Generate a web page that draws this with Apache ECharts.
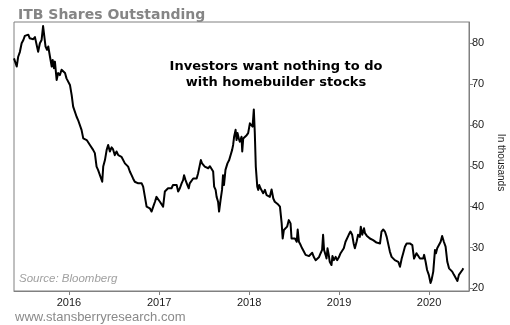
<!DOCTYPE html>
<html>
<head>
<meta charset="utf-8">
<script src="https://cdn.jsdelivr.net/npm/echarts@6/dist/echarts.min.js"></script>
<style>
  html, body { margin: 0; padding: 0; background: #fff; }
  #chart { width: 510px; height: 325px; }
</style>
</head>
<body>
<div id="chart"></div>
<script>
// ITB shares outstanding (thousands), roughly weekly readings
const dates = [
  '2015-05-23','2015-05-27','2015-06-03','2015-06-09','2015-06-16','2015-06-23','2015-06-30','2015-07-06','2015-07-13','2015-07-20','2015-07-26','2015-08-02','2015-08-09','2015-08-16','2015-08-23','2015-08-29','2015-09-05','2015-09-12','2015-09-18','2015-09-22','2015-09-28','2015-10-04','2015-10-09','2015-10-16','2015-10-23','2015-10-27','2015-11-01','2015-11-05','2015-11-12','2015-11-18','2015-11-25','2015-12-02','2015-12-09','2015-12-16','2015-12-22','2015-12-29',
  '2016-01-05','2016-01-12','2016-01-18','2016-01-25','2016-02-01','2016-02-07','2016-02-14','2016-02-21','2016-02-28','2016-03-06','2016-03-13','2016-03-19','2016-03-26','2016-04-02','2016-04-08','2016-04-15','2016-04-22','2016-04-28','2016-05-05','2016-05-15','2016-05-19','2016-05-26','2016-06-02','2016-06-08','2016-06-15','2016-06-22','2016-06-28','2016-07-05','2016-07-12','2016-07-19','2016-07-26','2016-08-01','2016-08-08','2016-08-15','2016-08-22','2016-08-28','2016-09-04','2016-09-11','2016-09-17','2016-09-24','2016-10-01','2016-10-08','2016-10-15','2016-10-22','2016-10-28','2016-11-04','2016-11-11','2016-11-17','2016-11-24','2016-12-01','2016-12-08','2016-12-15','2016-12-21','2016-12-28',
  '2017-01-04','2017-01-11','2017-01-17','2017-01-24','2017-01-31','2017-02-06','2017-02-13','2017-02-20','2017-02-26','2017-03-06','2017-03-13','2017-03-19','2017-03-26','2017-04-02','2017-04-08','2017-04-12','2017-04-18','2017-04-26','2017-05-01','2017-05-05','2017-05-12','2017-05-19','2017-05-26','2017-06-02','2017-06-08','2017-06-15','2017-06-19','2017-06-24','2017-06-28','2017-07-05','2017-07-12','2017-07-19','2017-07-26','2017-08-02','2017-08-08','2017-08-12','2017-08-18','2017-08-22','2017-08-28','2017-09-01','2017-09-07','2017-09-13','2017-09-17','2017-09-21','2017-09-27','2017-10-05','2017-10-12','2017-10-19','2017-10-24','2017-10-28','2017-11-01','2017-11-07','2017-11-11','2017-11-15','2017-11-20','2017-11-24','2017-12-01','2017-12-04','2017-12-08','2017-12-15','2017-12-22','2017-12-28',
  '2018-01-04','2018-01-11','2018-01-15','2018-01-20','2018-01-24','2018-01-28','2018-02-03','2018-02-07','2018-02-11','2018-02-16','2018-02-20','2018-02-27','2018-03-06','2018-03-13','2018-03-19','2018-03-26','2018-04-02','2018-04-09','2018-04-15','2018-04-22','2018-04-29','2018-05-06','2018-05-13','2018-05-17','2018-05-22','2018-05-29','2018-06-04','2018-06-11','2018-06-18','2018-06-22','2018-06-29','2018-07-06','2018-07-13','2018-07-17','2018-07-22','2018-07-29','2018-08-04','2018-08-11','2018-08-18','2018-08-25','2018-09-01','2018-09-07','2018-09-14','2018-09-21','2018-09-28','2018-10-04','2018-10-11','2018-10-18','2018-10-24','2018-10-28','2018-11-01','2018-11-07','2018-11-11','2018-11-15','2018-11-20','2018-11-24','2018-12-01','2018-12-05','2018-12-11','2018-12-18','2018-12-24','2018-12-31',
  '2019-01-07','2019-01-13','2019-01-20','2019-01-27','2019-02-03','2019-02-09','2019-02-16','2019-02-23','2019-03-01','2019-03-06','2019-03-13','2019-03-19','2019-03-26','2019-03-30','2019-04-05','2019-04-12','2019-04-16','2019-04-23','2019-04-29','2019-05-06','2019-05-13','2019-05-19','2019-05-26','2019-06-02','2019-06-09','2019-06-16','2019-06-22','2019-06-29','2019-07-06','2019-07-13','2019-07-19','2019-07-26','2019-08-02','2019-08-08','2019-08-15','2019-08-22','2019-08-29','2019-09-05','2019-09-12','2019-09-18','2019-09-25','2019-10-02','2019-10-08','2019-10-15','2019-10-19','2019-10-25','2019-11-01','2019-11-07','2019-11-11','2019-11-18','2019-11-25','2019-12-02','2019-12-08','2019-12-12','2019-12-18','2019-12-24','2019-12-31',
  '2020-01-07','2020-01-11','2020-01-18','2020-01-25','2020-01-29','2020-02-03','2020-02-10','2020-02-17','2020-02-23','2020-03-01','2020-03-08','2020-03-15','2020-03-22','2020-03-29','2020-04-04','2020-04-11','2020-04-18','2020-04-25','2020-05-01','2020-05-08','2020-05-15','2020-05-19'
];

const shares = [
  76.3, 75.9, 74.3, 76.7, 77.9, 80.0, 80.8, 81.8, 81.5, 82.1, 81.2, 81.6, 81.0, 81.5, 81.2, 77.9, 80.0, 80.8, 84.2, 84.1, 79.2, 78.4, 79.2, 76.7, 74.3, 75.9, 73.9, 75.5, 71.0, 72.7, 72.2, 73.5, 73.6, 72.7, 71.4, 71.4,
  69.8, 67.3, 64.5, 64.1, 62.0, 61.2, 60.8, 58.8, 56.7, 57.1, 56.3, 56.7, 55.1, 55.5, 53.9, 53.1, 49.8, 49.0, 48.6, 46.1, 49.8, 51.4, 53.9, 55.1, 53.5, 54.5, 54.0, 52.6, 53.5, 52.6, 52.2, 52.2, 51.8, 50.6, 50.2, 49.8, 48.6, 47.7, 46.9, 46.1, 46.5, 45.7, 45.3, 45.7, 44.9, 44.5, 40.0, 40.0, 39.6, 38.8, 40.0, 41.2, 42.4, 42.0,
  41.2, 40.8, 40.0, 43.7, 44.1, 44.5, 44.1, 44.5, 45.3, 44.9, 45.3, 43.7, 44.5, 45.7, 46.5, 47.7, 46.5, 45.2, 44.5, 45.7, 46.1, 46.9, 47.3, 46.9, 48.2, 50.2, 51.4, 50.6, 50.8, 49.8, 49.6, 49.4, 49.9, 49.8, 48.6, 44.9, 44.1, 42.4, 41.2, 38.8, 41.6, 44.1, 47.7, 45.3, 49.0, 50.6, 51.4, 51.4, 53.9, 55.1, 57.1, 58.8, 56.3, 58.0, 56.7, 55.9, 57.1, 53.5, 56.7, 57.0, 57.5, 58.0,
  60.4, 60.0, 59.6, 63.8, 58.0, 49.8, 44.9, 44.1, 45.3, 44.5, 44.9, 43.3, 44.1, 42.8, 42.4, 42.4, 44.2, 42.0, 41.2, 40.8, 40.5, 40.0, 35.9, 32.2, 34.3, 34.7, 35.1, 36.7, 35.9, 32.2, 31.8, 32.2, 31.4, 34.4, 31.4, 30.6, 29.8, 29.0, 28.2, 28.6, 27.9, 28.2, 28.7, 27.6, 26.9, 26.5, 27.6, 28.6, 29.4, 33.1, 29.4, 28.2, 27.3, 29.8, 28.2, 26.5, 25.7, 27.9, 26.9, 27.7, 26.9, 27.6,
  28.6, 29.0, 29.8, 31.4, 31.8, 33.1, 33.9, 33.1, 31.0, 29.8, 31.4, 33.1, 32.6, 35.1, 33.1, 34.7, 33.5, 32.9, 32.6, 32.2, 32.0, 31.8, 31.4, 31.2, 31.2, 31.0, 33.9, 34.4, 33.9, 32.6, 32.2, 29.0, 27.7, 27.3, 26.9, 26.5, 26.5, 25.3, 27.3, 28.6, 30.2, 31.0, 31.4, 31.0, 31.4, 30.6, 27.3, 27.7, 28.6, 28.2, 27.3, 26.9, 27.3, 28.2, 26.5, 24.5, 23.3,
  21.3, 22.0, 24.1, 29.4, 28.6, 29.8, 30.2, 31.4, 32.8, 31.4, 30.2, 26.5, 24.9, 24.5, 24.1, 23.3, 23.0, 21.8, 23.3, 23.7, 24.5, 24.9
];

const yearTicks = [2016, 2017, 2018, 2019, 2020];
const valueTicks = [20, 30, 40, 50, 60, 70, 80];

const xStart = '2015-05-23';
const xEnd = '2020-06-11';
const yMin = 19.35;
const yMax = 85.2;

// the date axis is a numeric axis over UTC timestamps, ticked on each new year
const yearStamps = yearTicks.map(y => Date.UTC(y, 0, 1));
const seriesData = dates.map((d, i) => [Date.parse(d), shares[i]]);

const axisGray = '#808080';
const labelFont = 'Liberation Sans, Arial, sans-serif';

const chart = echarts.init(document.getElementById('chart'), null, { renderer: 'canvas' });

chart.setOption({
  animation: false,
  backgroundColor: '#ffffff',
  title: {
    text: 'ITB Shares Outstanding',
    left: 13,
    top: 3,
    textStyle: {
      fontFamily: 'DejaVu Sans, Verdana, sans-serif',
      fontWeight: 'bold',
      fontSize: 14,
      color: '#858585'
    }
  },
  grid: {
    left: 14,
    right: 41,
    top: 22,
    bottom: 34,
    outerBoundsMode: 'none',
    containLabel: false,
    show: true,
    borderColor: axisGray,
    borderWidth: 1,
    backgroundColor: 'transparent'
  },
  xAxis: {
    type: 'value',
    min: Date.parse(xStart),
    max: Date.parse(xEnd),
    splitLine: { show: false },
    axisLine: { show: true, lineStyle: { color: axisGray, width: 1 } },
    axisTick: {
      show: true,
      length: 4,
      customValues: yearStamps,
      lineStyle: { color: axisGray }
    },
    axisLabel: {
      customValues: yearStamps,
      formatter: v => String(new Date(v).getUTCFullYear()),
      color: '#1a1a1a',
      fontFamily: labelFont,
      fontSize: 11,
      margin: 6
    }
  },
  yAxis: {
    type: 'value',
    position: 'right',
    min: yMin,
    max: yMax,
    splitLine: { show: false },
    axisLine: { show: true, lineStyle: { color: axisGray, width: 1 } },
    axisTick: {
      show: true,
      length: 4,
      customValues: valueTicks,
      lineStyle: { color: axisGray }
    },
    axisLabel: {
      customValues: valueTicks,
      color: '#1a1a1a',
      fontFamily: labelFont,
      fontSize: 11,
      margin: 3
    },
    name: 'In thousands',
    nameLocation: 'middle',
    nameRotate: -90,
    nameGap: 27,
    nameTextStyle: {
      color: '#1a1a1a',
      fontFamily: labelFont,
      fontSize: 10,
      padding: [0, 0, 0, 12]
    }
  },
  series: [{
    type: 'line',
    data: seriesData,
    showSymbol: false,
    symbol: 'none',
    lineStyle: { color: '#000000', width: 2, join: 'round' },
    clip: true
  }],
  graphic: [
    {
      type: 'text',
      x: 276,
      y: 59,
      style: {
        text: 'Investors want nothing to do\nwith homebuilder stocks',
        fontFamily: 'DejaVu Sans, Verdana, sans-serif',
        fontWeight: 'bold',
        fontSize: 13,
        lineHeight: 16,
        fill: '#000000',
        align: 'center',
        verticalAlign: 'top'
      }
    },
    {
      type: 'text',
      left: 19,
      top: 273,
      style: {
        text: 'Source: Bloomberg',
        fontFamily: labelFont,
        fontStyle: 'italic',
        fontSize: 11.5,
        fill: '#a0a0a0'
      }
    },
    {
      type: 'text',
      left: 15,
      top: 311,
      style: {
        text: 'www.stansberryresearch.com',
        fontFamily: labelFont,
        fontSize: 13,
        fill: '#8a8a8a'
      }
    }
  ]
});
</script>
</body>
</html>
